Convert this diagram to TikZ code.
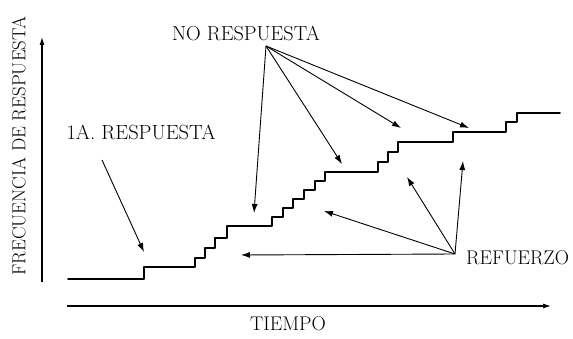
\documentclass[tikz,border=0pt]{standalone}
\usetikzlibrary{arrows.meta}
\begin{document}
\begin{tikzpicture}[x=1pt,y=-1pt,
  lbl/.style={inner sep=0pt,font=\fontsize{20.3}{22}\selectfont},
  arr/.style={line width=0.9pt,-{Latex[length=9pt,width=6pt]}},
  axis/.style={line width=1.1pt,-{Latex[length=8pt,width=5pt]}},
  curve/.style={line width=1.8pt,line join=round,line cap=round}]
\useasboundingbox (0,0) rectangle (573,339);
% texts
\node[lbl] (nores) at (246,33) {NO RESPUESTA};
\node[lbl,font=\fontsize{20.5}{22}\selectfont] (primera) at (141,132) {1A. RESPUESTA};
\node[lbl,anchor=west,font=\fontsize{19.8}{22}\selectfont] (refuerzo) at (466,258) {REFUERZO};
\node[lbl,font=\fontsize{19.8}{22}\selectfont] (tiempo) at (288,324) {TIEMPO};
\node[lbl,font=\fontsize{18.8}{22}\selectfont,rotate=90] (frec) at (19,146) {FRECUENCIA DE RESPUESTA};
% axes
\coordinate (yb) at (42,282); \coordinate (yt) at (42,37);
\coordinate (xl) at (67,306); \coordinate (xr) at (551,306);
\draw[axis] (yb) -- (yt);
\draw[axis] (xl) -- (xr);
% response curve
\draw[curve] (68,279) -- (144,279) -- (144,267) -- (195,267) -- (195,258) -- (205,258) -- (205,248) -- (215,248) -- (215,238) -- (227,238) -- (227,226) -- (272,226) -- (272,217) -- (283,217) -- (283,208) -- (293,208) -- (293,199) -- (304,199) -- (304,190) -- (315,190) -- (315,181) -- (325,181) -- (325,172) -- (378,172) -- (378,162) -- (388,162) -- (388,152) -- (398,152) -- (398,142) -- (453,142) -- (453,132) -- (506,132) -- (506,122) -- (517,122) -- (517,113) -- (560,113);
% arrow origins and targets
\coordinate (nrO) at (266,46);
\coordinate (nr1) at (254,213);
\coordinate (nr2) at (342,164);
\coordinate (nr3) at (401,128);
\coordinate (nr4) at (469,128);
\coordinate (rfO) at (455,254);
\coordinate (rf1) at (241,255);
\coordinate (rf2) at (324,211);
\coordinate (rf3) at (407,177);
\coordinate (rf4) at (463,161);
\coordinate (pO) at (102,160);
\coordinate (p1) at (144,252);
\draw[arr] (nrO) -- (nr1);
\draw[arr] (nrO) -- (nr2);
\draw[arr] (nrO) -- (nr3);
\draw[arr] (nrO) -- (nr4);
\draw[arr] (rfO) -- (rf1);
\draw[arr] (rfO) -- (rf2);
\draw[arr] (rfO) -- (rf3);
\draw[arr] (rfO) -- (rf4);
\draw[arr] (pO) -- (p1);
\end{tikzpicture}
\end{document}
